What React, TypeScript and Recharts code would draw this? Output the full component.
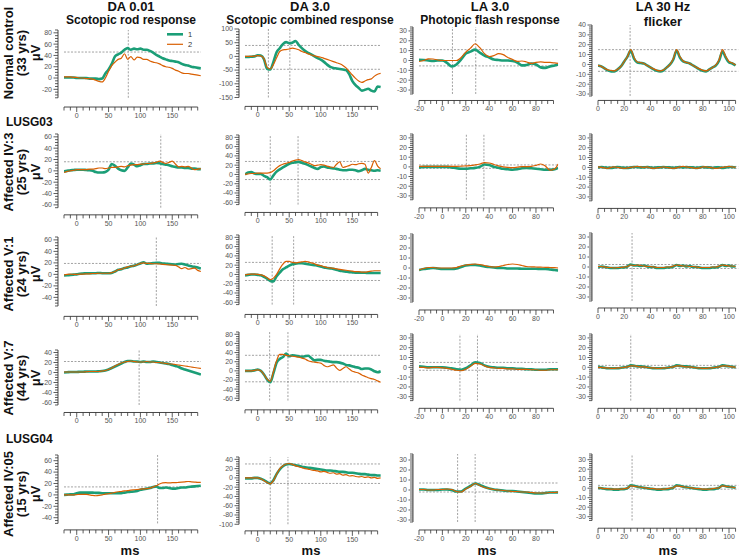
import React from 'react';
import { LineChart, Line, XAxis, YAxis, ReferenceLine } from 'recharts';

const GREEN = '#1b9e77';
const ORANGE = '#d95f02';
const AX = '#333';
const FONT = '"Liberation Sans", Arial, sans-serif';

// ---------- time bases (ms) ----------
const tDA = [-20,-15,-10,-5,0,5,10,15,20,25,30,35,40,45,50,55,60,65,70,75,80,85,90,95,100,105,110,115,120,125,130,135,140,145,150,155,160,165,170,175,180,185,190,195];
const tLA = [-20,-16,-12,-8,-4,0,4,8,12,16,20,24,28,32,36,40,44,48,52,56,60,64,68,72,76,80,84,88,92,96,99];
const tFL = [0,2.5,5,7.5,10,12.5,15,17.5,20,22.5,25,27.5,30,32.5,35,37.5,40,42.5,45,47.5,50,52.5,55,57.5,60,62.5,65,67.5,70,72.5,75,77.5,80,82.5,85,87.5,90,92.5,95,97.5,100,102.5,105];

// ---------- tick labels ----------
const xLabDA = [0, 50, 100, 150];
const xLabLA = [-20, 0, 20, 40, 60, 80];
const xLabFL = [0, 20, 40, 60, 80, 100];
const yLab1a = [-20, 0, 20, 40, 60, 80];
const yLab1b = [-150, -100, -50, 0, 50, 100];
const yLab2a = [-60, -40, -20, 0, 20, 40, 60];
const yLab3a = [-40, -20, 0, 20, 40, 60];
const yLab4a = [-60, -40, -20, 0, 20, 40];
const yLabB = [-60, -40, -20, 0, 20, 40, 60, 80];
const yLab5b = [-100, -80, -60, -40, -20, 0, 20, 40];
const yLabLA = [-30, -20, -10, 0, 10, 20, 30];
const yLabFL1 = [-30, -20, -10, 0, 10, 20, 30, 40];

// ---------- series (green = 1, orange = 2) ----------
const r1c1g = [1,1,1,1,0,0,0,0,-1,-1,-1,-2,-1,8,15,25,38,42,45,50,53,50,52,51,52,50,50,48,45,41,38,35,33,31,30,29,28,25,23,22,20,19,18,17];
const r1c1o = [2,2,2,1,1,0,0,-1,-1,-2,-4,-6,-7,0,12,22,28,33,35,43,33,38,32,37,36,33,33,30,28,27,25,22,20,19,17,14,12,9,8,8,7,6,5,4];
const r1c2g = [-2,-2,-1,0,4,3,-10,-45,-48,-20,15,30,45,52,48,50,56,42,30,20,13,7,0,-6,-12,-20,-30,-38,-42,-44,-46,-48,-50,-65,-90,-105,-115,-125,-122,-118,-125,-128,-110,-112];
const r1c2o = [0,0,0,1,3,2,-8,-40,-46,-30,-5,18,24,25,27,30,28,24,18,14,9,5,2,-1,-3,-7,-11,-15,-19,-23,-27,-33,-42,-55,-68,-80,-90,-95,-90,-85,-82,-72,-65,-62];
const r1c3g = [0.7,0.5,0,-0.5,0,0,-2.5,-6,-4,1,7,9,11,8,5,3,1,0.5,0,0,-0.5,-2,-5,-4.5,-3,-4,-7,-7.5,-6,-5,-4];
const r1c3o = [-1,0,1.7,1.5,0.5,0,0,0,0,3,8.5,12.5,17,13,7,4,5,7,6,3,1,-1,-0.5,-1.5,-3,-2,-1.5,-2,-2,-2.5,-3];
const r1c4g = [-1,-2,-4,-6,-7,-7,-5,-2,3,8,14,6,2,1.5,1,-1,-3,-5,-6.5,-7,-6,-3,0,5,14,7,3,2,1,-1,-3,-5,-6.5,-7,-5,-3,-1,4,13,7,2,1,-1];
const r1c4o = [-1,-2,-4,-5.5,-6,-6.5,-5,-2,3,8,15,7,2.5,2,1,-1,-3,-4.5,-6,-6.5,-5.5,-3,0,6,15,8,3.5,2,1,-1,-3,-4.5,-6,-6.5,-5,-3,-0.5,5,15,8,3,1.5,-0.5];

const r2c1g = [-1,0,1,1.5,2,2,2,1.5,1,0,-2,-3,-3,-2,2,12,9,4,1,0,6,13,11,8,10,12,12,13,13,14,13.5,12,11,10,8,7,6,6,5,5,4,4,3,3];
const r2c1o = [-3,-1,0,1,2,2,2,2,3,3,4,5,5,4,5,6,6,7,8,7,9,10,11,11,12,12,13,13,14,15,17,15,13,15,17,12,7,8,7,8,5,2,3,4];
const r2c2g = [0,4,5,2,1,1,-3,-6,-11,-2,6,11,15,19,23,25,26,27,25,23,20,17,14,12,16,17,15,14,13,12,10,9,9,10,10,9,7,9,12,10,9,8,9,8];
const r2c2o = [0,1,2,2,3,3,3,3,4,8,14,19,22,24,26,29,31,32,30,27,25,22,19,20,21,20,18,16,15,22,27,15,17,19,22,21,23,24,22,3,15,30,18,12];
const r2c3g = [-0.5,0,0,0,0,0,0,-0.5,-1.5,-2,-2,-1.5,-1,0,2.5,2,0,-1,-2,-2.5,-3,-2.5,-1.5,-1,-1.5,-2,-2.5,-3,-3,-2.5,-1];
const r2c3o = [0.5,0.5,0.5,0.5,0.5,0.5,0.5,0.5,0.5,0.7,1,1.3,2,3,4.5,4,2.5,1,0,-0.5,-0.7,-0.3,0.3,0.3,0.5,1.5,3,1,-3.5,-2,3];
const r2c4g = [0,0.5,0,-0.5,-0.5,0,0.5,0,-0.5,-0.5,0,0.5,0.5,0,0,0.5,0,-0.5,0,0,0.5,0,0,-0.5,0,0.5,0,0.5,0,0,-0.5,0,0.5,0,0,-0.5,0,0,-0.5,0,0.5,0.5,0];
const r2c4o = [0.5,0,-0.5,-1,0,0.5,0,-0.5,-1,-0.5,0,0.5,1,0.5,0,0.5,-0.5,-1,-0.5,0,0.5,0,-0.5,-1,-0.5,0.5,1,0.5,0,-0.5,-1,-0.5,0.5,0.5,0,-0.5,-1,-0.5,0,0.5,1,0.5,0];

const r3c1g = [-2,-1.5,-1,-0.5,0,1,1.5,2,2,2,2,2.5,2,2,2,2.5,5,8,9,11,12,14,15,17,19,21,18.5,19,19.5,20,20,19,18.5,18,17.5,17,18,18.5,17,15.5,14,13,12,10];
const r3c1o = [-1,0,0.5,0,0,0.5,0.5,1,1,1.5,1.5,2,2,2,2,3,5,8,9,11,13,14,15,17,19,20,19,19,18.5,18.5,18,17.5,17,16.5,16,15.5,13,10,12,9,10,11,7,5];
const r3c2g = [-2,-1,0,0,-1,-2,-5,-9,-14,-15,-4,4,11,15,19,22,23,24,24,23,22,21,20,19,17,15,14,13,12,10,8,7,6,5,4.5,4,4,3.5,3.5,3,3,3,3,3];
const r3c2o = [-1,0,0.5,0.5,0,-1,-3,-7,-11,-8,0,12,22,28,28,26,25,26,27,28,27,25,23,20,19,17,15,14,13,12,11,10,9,8,7,6,6,5,5,6,7,8,8,8];
const r3c3g = [-2,-1,-0.5,0,-0.5,-1,-1,-1,-0.5,1,2.5,3,3,2.5,1.5,1,0.5,0,0,-0.5,-0.5,-0.5,-0.7,-0.7,-0.7,-0.7,-1,-1,-1.5,-2,-2.5];
const r3c3o = [-2,-0.5,0.5,0.5,0,0,0,0,0.5,2,3,3.5,4,3.5,2.5,1.5,1,1.5,2.5,3.5,4,3.5,2.5,1.5,1.2,1,0.8,0.7,0.5,0.3,0];
const r3c4g = [0,0.5,0,-0.5,-1,-1,-1,-0.5,-0.5,0.5,2.5,1.5,1.5,1,1.5,0.5,0,0,-1,-1,-1,-0.5,-0.5,0.5,2,1,1.5,0.5,1,0,0,-0.5,-1,-1,-1,-0.5,-0.5,0.5,2,1,1.5,0.5,0.5];
const r3c4o = [0.5,0.5,0,-0.5,-0.5,-1,-0.5,-0.5,0,0.5,2,1.5,2,1.5,1,0.5,0.5,0,-0.5,-0.5,-0.5,0,0,1,2,1.5,1,1,0.5,0.5,0,-0.5,-0.5,-0.5,-0.5,0,0,1,2,1.5,1,1,0.5];

const r4c1g = [0,0.5,1,1,1,1.5,1.5,2,2,2,2,2.5,3,4,6,9,12,15,18,21,23,23,22,22,21,22,21,21,22,21,20,19,18,17,15,13,11,8,6,4,2,0,-2,-4];
const r4c1o = [1,1,1,1,1,1,1,1.5,2,2,2,2,3,4,6,9,13,16,19,21,22,23,22,21,21,21,22,21,21,20,20,19,18,17,17,16,15,14,13,12,11,10,9,8];
const r4c2g = [0,0,0,1,3,0,-8,-19,-25,-5,18,26,30,38,32,34,33,32,31,32,33,28,23,24,24,22,21,20,19,19,18,16,13,12,10,8,7,4,5,5,3,-1,-3,-1];
const r4c2o = [0,0,0,1,2,0,-8,-18,-23,-2,22,36,36,34,33,32,31,30,28,26,22,20,19,18,17,12,9,11,13,6,1,5,9,4,-1,-3,-5,-9,-12,-15,-17,-19,-22,-25];
const r4c3g = [1,0.5,0,0,0,0,-0.5,-1,-2,-2.5,-1,2,5,4.5,2,0.5,0,-0.5,-0.5,-1,-1,-1.5,-1.5,-2,-2,-2.5,-2.5,-2.5,-2,-2,-2];
const r4c3o = [0,0,-0.5,0,0,-0.5,-1,-2,-3,-3.5,-2,1,4,3.5,1.5,0,-0.5,-1,-1,-1.5,-1.5,-2,-2,-2,-2.5,-2.5,-3,-3,-2.5,-2.5,-2.5];
const r4c4g = [0.5,0,-0.5,-1,-1,-1,-1,-0.5,0,0.5,2,1.5,1,1,0.5,0,-0.5,-1,-1,-1,-1,-0.5,0,0.5,2,1.5,1,1,0.5,0,-0.5,-1,-1,-1,-1,-0.5,0,0.5,2,1.5,1,0.5,0];
const r4c4o = [0,0,-0.5,-0.5,-1,-1,-0.5,-0.5,0,0.5,1.5,1.5,1,0.5,0.5,0,-0.5,-0.5,-1,-1,-0.5,-0.5,0,0.5,1.5,1.5,1,0.5,0.5,0,-0.5,-0.5,-1,-1,-0.5,-0.5,0,0.5,1.5,1.5,1,0.5,0];

const r5c1g = [0,0.5,1,1,3,4,4,4,4,4,3.5,3.5,3,3,3,3,3,3,3,4,5,5.5,6,7,9,10,11,12,14,15,12,12,13,12,11,11,12,13,13,14,14.5,15,15.5,16];
const r5c1o = [0,0,0,0,0.5,1,1,1,0,-1,-1.5,-1,0,1.5,2,3,4.5,5.5,6,7,7.5,8.5,9,9.5,10,10.5,11,12,14,16,19,21,21.5,21,21.5,21.5,22,22.5,23,23.5,23,22.5,22,22];
const r5c2g = [-1,-1,-1,0,0,-2,-5,-9,-12,-5,8,18,25,29,30,29,27,26,24,23,22,21,20,19,18,17,16,16,15,14,13,13,12,11,11,10,9,8,8,7,6,6,5,5];
const r5c2o = [0,0,0,0,0,-2,-6,-10,-13,-6,8,20,26,30,31,29,26,24,22,20,19,17,16,15,13,14,12,10,11,8,9,6,7,4,5,3,2,3,1,2,0,1,-1,0];
const r5c3g = [0.5,0.5,0,0,0,0.5,0.5,0,-1.5,-1.5,1.5,4,6.5,5,3,1.5,0.5,0,-0.5,-1,-1,-1.5,-2,-2.5,-3,-3.5,-3.5,-3,-2.5,-2.5,-2.5];
const r5c3o = [0.5,0.5,0,0,0.5,0.5,1,0.5,-1.5,-2,1,3.5,6.5,4.5,2.5,1.5,0.5,0,-0.5,-1,-1.5,-1.5,-2,-2,-2.5,-3,-3,-3,-2.5,-2.5,-2];
const r5c4g = [0.5,0,-0.5,-1,-1,-1.5,-1.5,-1,-1,0,3,2.5,1.5,1,0.5,0,-0.5,-1,-1.5,-1.5,-1,-1,-0.5,0.5,3,2.5,1.5,1,0.5,0,-0.5,-1,-1.5,-1.5,-1,-1,-0.5,0.5,3,2,1.5,1,0.5];
const r5c4o = [0.5,0,-0.5,-0.5,-1,-1,-1,-1,-0.5,0,2.5,2,1.5,1,0.5,0,-0.5,-0.5,-1,-1,-1,-0.5,0,0.5,2.5,2,1.5,1,0.5,0,-0.5,-0.5,-1,-1,-1,-0.5,0,0.5,2.5,2,1.5,1,0.5];

// ---------- guide lines (vertical: ms, horizontal: µV) ----------
const v11 = [81], h11 = [46];
const v12 = [17, 51], h12 = [40, -47];
const v13 = [8.6, 28.5], h13 = [11, -5.5];
const v14 = [24.5], h14 = [15, -7];
const v21 = [132], h21 = [16];
const v22 = [20, 64], h22 = [28, -11];
const v23 = [20.5, 35.5], h23 = [2, -1.5];
const v24: number[] = [], h24 = [1, -1];
const v31 = [125], h31 = [19];
const v32 = [23, 57], h32 = [26, -13];
const v33: number[] = [], h33: number[] = [];
const v34 = [26], h34 = [2.5, -1.5];
const v41 = [98], h41 = [22];
const v42 = [19, 48], h42 = [34, -24];
const v43 = [15, 30], h43 = [5, -3];
const v44 = [25], h44 = [2, -1];
const v51 = [127], h51 = [14];
const v52 = [20, 48], h52 = [30, -12];
const v53 = [13, 28], h53 = [7, -2];
const v54 = [26], h54 = [3, -1];

// ---------- layout ----------
type Col = { x0: number; x1: number; left: number; right: number; minor: number; first: number; last: number; labels: number[] };
type RowG = { zero: number; ppu: number; yMin: number; yMax: number; minor: number; labels: number[]; axisY: number };

const COLS: Col[] = [
  { x0: -20, x1: 195, left: 63.8, right: 200.7, minor: 10, first: -20, last: 190, labels: xLabDA },
  { x0: -20, x1: 195, left: 244.9, right: 380.7, minor: 10, first: -20, last: 190, labels: xLabDA },
  { x0: -20, x1: 99, left: 419.1, right: 558.3, minor: 5, first: -20, last: 95, labels: xLabLA },
  { x0: 0, x1: 107, left: 598, right: 738.2, minor: 5, first: 0, last: 105, labels: xLabFL },
];

const range = (a: number, b: number, s: number) => {
  const n = Math.round((b - a) / s);
  return Array.from({ length: n + 1 }, (_, i) => Math.round((a + i * s) * 1000) / 1000);
};
const near = (a: number, b: number) => Math.abs(a - b) < 1e-6;

type PanelDef = { c: number; g: RowG; t: number[]; s1: number[]; s2: number[]; vl: number[]; hl: number[] };

const PANELS: PanelDef[] = [
  { c: 0, g: { zero: 78, ppu: 0.565, yMin: -35, yMax: 85, minor: 5, labels: yLab1a, axisY: 107 }, t: tDA, s1: r1c1g, s2: r1c1o, vl: v11, hl: h11 },
  { c: 1, g: { zero: 56, ppu: 0.274, yMin: -150, yMax: 100, minor: 10, labels: yLab1b, axisY: 106 }, t: tDA, s1: r1c2g, s2: r1c2o, vl: v12, hl: h12 },
  { c: 2, g: { zero: 60, ppu: 0.985, yMin: -34, yMax: 34, minor: 2, labels: yLabLA, axisY: 100 }, t: tLA, s1: r1c3g, s2: r1c3o, vl: v13, hl: h13 },
  { c: 3, g: { zero: 64, ppu: 0.986, yMin: -32, yMax: 40, minor: 2, labels: yLabFL1, axisY: 100 }, t: tFL, s1: r1c4g, s2: r1c4o, vl: v14, hl: h14 },

  { c: 0, g: { zero: 171, ppu: 0.567, yMin: -65, yMax: 65, minor: 5, labels: yLab2a, axisY: 215 }, t: tDA, s1: r2c1g, s2: r2c1o, vl: v21, hl: h21 },
  { c: 1, g: { zero: 174, ppu: 0.464, yMin: -65, yMax: 85, minor: 5, labels: yLabB, axisY: 212 }, t: tDA, s1: r2c2g, s2: r2c2o, vl: v22, hl: h22 },
  { c: 2, g: { zero: 167, ppu: 0.967, yMin: -34, yMax: 34, minor: 2, labels: yLabLA, axisY: 208 }, t: tLA, s1: r2c3g, s2: r2c3o, vl: v23, hl: h23 },
  { c: 3, g: { zero: 167, ppu: 0.983, yMin: -34, yMax: 34, minor: 2, labels: yLabLA, axisY: 208 }, t: tFL, s1: r2c4g, s2: r2c4o, vl: v24, hl: h24 },

  { c: 0, g: { zero: 274, ppu: 0.575, yMin: -55, yMax: 65, minor: 5, labels: yLab3a, axisY: 316 }, t: tDA, s1: r3c1g, s2: r3c1o, vl: v31, hl: h31 },
  { c: 1, g: { zero: 274, ppu: 0.464, yMin: -65, yMax: 85, minor: 5, labels: yLabB, axisY: 314 }, t: tDA, s1: r3c2g, s2: r3c2o, vl: v32, hl: h32 },
  { c: 2, g: { zero: 268, ppu: 1.0, yMin: -34, yMax: 34, minor: 2, labels: yLabLA, axisY: 310 }, t: tLA, s1: r3c3g, s2: r3c3o, vl: v33, hl: h33 },
  { c: 3, g: { zero: 267, ppu: 1.0, yMin: -34, yMax: 34, minor: 2, labels: yLabLA, axisY: 308 }, t: tFL, s1: r3c4g, s2: r3c4o, vl: v34, hl: h34 },

  { c: 0, g: { zero: 372, ppu: 0.5, yMin: -65, yMax: 45, minor: 5, labels: yLab4a, axisY: 412 }, t: tDA, s1: r4c1g, s2: r4c1o, vl: v41, hl: h41 },
  { c: 1, g: { zero: 371, ppu: 0.457, yMin: -65, yMax: 85, minor: 5, labels: yLabB, axisY: 410 }, t: tDA, s1: r4c2g, s2: r4c2o, vl: v42, hl: h42 },
  { c: 2, g: { zero: 367, ppu: 0.98, yMin: -34, yMax: 34, minor: 2, labels: yLabLA, axisY: 408 }, t: tLA, s1: r4c3g, s2: r4c3o, vl: v43, hl: h43 },
  { c: 3, g: { zero: 367, ppu: 0.98, yMin: -34, yMax: 34, minor: 2, labels: yLabLA, axisY: 408 }, t: tFL, s1: r4c4g, s2: r4c4o, vl: v44, hl: h44 },

  { c: 0, g: { zero: 495, ppu: 0.57, yMin: -50, yMax: 70, minor: 5, labels: yLab3a, axisY: 530 }, t: tDA, s1: r5c1g, s2: r5c1o, vl: v51, hl: h51 },
  { c: 1, g: { zero: 478, ppu: 0.464, yMin: -100, yMax: 45, minor: 5, labels: yLab5b, axisY: 531 }, t: tDA, s1: r5c2g, s2: r5c2o, vl: v52, hl: h52 },
  { c: 2, g: { zero: 490, ppu: 1.0, yMin: -32, yMax: 36, minor: 2, labels: yLabLA, axisY: 530 }, t: tLA, s1: r5c3g, s2: r5c3o, vl: v53, hl: h53 },
  { c: 3, g: { zero: 488, ppu: 0.95, yMin: -34, yMax: 36, minor: 2, labels: yLabLA, axisY: 528 }, t: tFL, s1: r5c4g, s2: r5c4o, vl: v54, hl: h54 },
];

const YW = 40;
const MT = 4;
const MR = 3;
const XLAB_DY = 11;

function Panel({ def }: { def: PanelDef }) {
  const col = COLS[def.c];
  const g = def.g;
  const plotTop = g.zero - g.yMax * g.ppu;
  const plotBottom = g.zero - g.yMin * g.ppu;
  const plotH = plotBottom - plotTop;
  const plotW = col.right - col.left;
  const gap = g.axisY - plotBottom;
  const XH = gap + 16;
  const pxX = plotW / (col.x1 - col.x0);
  const xSpan = (col.last - col.first) * pxX;
  const ySpan = (g.yMax - g.yMin) * g.ppu;
  const data = def.t.map((t, i) => ({ t, a: def.s1[i], b: def.s2[i] }));
  const xTicks = range(col.first, col.last, col.minor);
  const yTicks = range(g.yMin, g.yMax, g.minor);

  const xTick = (p: any) => {
    const { x, y, payload } = p;
    const v = payload.value as number;
    const ay = y + gap;
    const major = col.labels.some((l) => near(l, v));
    return (
      <g>
        {near(v, col.first) && <line x1={x} x2={x + xSpan} y1={ay} y2={ay} stroke={AX} strokeWidth={0.9} />}
        <line x1={x} x2={x} y1={ay} y2={ay + (major ? 5 : 3.5)} stroke={AX} strokeWidth={0.8} />
        {major && (
          <text x={x} y={ay + XLAB_DY} textAnchor="middle" fontSize={7} fill="#555" fontFamily={FONT}>
            {v}
          </text>
        )}
      </g>
    );
  };

  const yTick = (p: any) => {
    const { x, y, payload } = p;
    const v = payload.value as number;
    const ax = x - 6;
    const major = g.labels.some((l) => near(l, v));
    return (
      <g>
        {near(v, g.yMin) && <line x1={ax} x2={ax} y1={y} y2={y - ySpan} stroke={AX} strokeWidth={0.9} />}
        <line x1={ax} x2={ax - (major ? 4.5 : 3)} y1={y} y2={y} stroke={AX} strokeWidth={0.8} />
        {major && (
          <text x={ax - 6} y={y + 2.4} textAnchor="end" fontSize={7} fill="#555" fontFamily={FONT}>
            {v}
          </text>
        )}
      </g>
    );
  };

  return (
    <div style={{ position: 'absolute', left: col.left - YW, top: plotTop - MT }}>
      <LineChart
        width={YW + plotW + MR}
        height={MT + plotH + XH}
        data={data}
        margin={{ top: MT, right: MR, bottom: 0, left: 0 }}
      >
        <XAxis
          type="number"
          dataKey="t"
          domain={[col.x0, col.x1]}
          ticks={xTicks}
          interval={0}
          allowDataOverflow
          axisLine={false}
          tickLine={false}
          tickSize={0}
          tickMargin={0}
          height={XH}
          tick={xTick}
        />
        <YAxis
          type="number"
          domain={[g.yMin, g.yMax]}
          ticks={yTicks}
          interval={0}
          allowDataOverflow
          axisLine={false}
          tickLine={false}
          tickSize={0}
          tickMargin={0}
          width={YW}
          tick={yTick}
        />
        {def.hl.map((v) => (
          <ReferenceLine key={'h' + v} y={v} stroke="#8a8a8a" strokeWidth={0.8} strokeDasharray="2 1.5" />
        ))}
        {def.vl.map((v) => (
          <ReferenceLine key={'v' + v} x={v} stroke="#8a8a8a" strokeWidth={0.8} strokeDasharray="2 1.5" />
        ))}
        <Line type="monotone" dataKey="a" stroke={GREEN} strokeWidth={2.6} dot={false} isAnimationActive={false} />
        <Line type="monotone" dataKey="b" stroke={ORANGE} strokeWidth={1.2} dot={false} isAnimationActive={false} />
      </LineChart>
    </div>
  );
}

const titles = [
  { x: 131, t1: 'DA 0.01', t2: 'Scotopic rod response', s2: 12, y2: 23.5 },
  { x: 310, t1: 'DA 3.0', t2: 'Scotopic combined response', s2: 12, y2: 23.5 },
  { x: 490, t1: 'LA 3.0', t2: 'Photopic flash response', s2: 12, y2: 23.5 },
  { x: 663, t1: 'LA 30 Hz', t2: 'flicker', s2: 13, y2: 26 },
];
const rowLabels = [
  { lines: ['Normal control', '(33 yrs)', 'μV'], cy: 53 },
  { lines: ['Affected IV:3', '(25 yrs)', 'μV'], cy: 172 },
  { lines: ['Affected V:1', '(24 yrs)', 'μV'], cy: 274 },
  { lines: ['Affected V:7', '(44 yrs)', 'μV'], cy: 378 },
  { lines: ['Affected IV:05', '(15 yrs)', 'μV'], cy: 494 },
];
const rowLabelX = [8, 21.5, 35];
const msX = [130, 311, 487, 668];

export default function App() {
  return (
    <div style={{ position: 'absolute', left: 0, top: 0, width: 742, height: 558, background: '#fff', overflow: 'hidden' }}>
      {PANELS.map((p, i) => (
        <Panel key={i} def={p} />
      ))}
      <svg width={742} height={558} style={{ position: 'absolute', left: 0, top: 0, pointerEvents: 'none' }}>
        <g fontFamily={FONT} fontWeight="bold" fill="#111">
          {titles.map((t, i) => (
            <g key={i}>
              <text x={t.x} y={10.5} fontSize={13} textAnchor="middle">{t.t1}</text>
              <text x={t.x} y={t.y2} fontSize={t.s2} textAnchor="middle">{t.t2}</text>
            </g>
          ))}
          {rowLabels.map((r, i) => (
            <g key={i}>
              {r.lines.map((l, j) => (
                <text
                  key={j}
                  transform={`translate(${rowLabelX[j]},${r.cy}) rotate(-90)`}
                  textAnchor="middle"
                  dominantBaseline="central"
                  fontSize={13}
                >
                  {l}
                </text>
              ))}
            </g>
          ))}
          <text x={6} y={125.5} fontSize={12}>LUSG03</text>
          <text x={6} y={443} fontSize={12}>LUSG04</text>
          {msX.map((x, i) => (
            <text key={i} x={x} y={554.5} fontSize={13} textAnchor="middle">ms</text>
          ))}
        </g>
        <g fontFamily={FONT} fontSize={7.5} fill="#333">
          <line x1={167} x2={183} y1={34.3} y2={34.3} stroke={GREEN} strokeWidth={2.6} />
          <text x={188} y={37}>1</text>
          <line x1={167} x2={183} y1={44.3} y2={44.3} stroke={ORANGE} strokeWidth={1.2} />
          <text x={188} y={47}>2</text>
        </g>
      </svg>
    </div>
  );
}
